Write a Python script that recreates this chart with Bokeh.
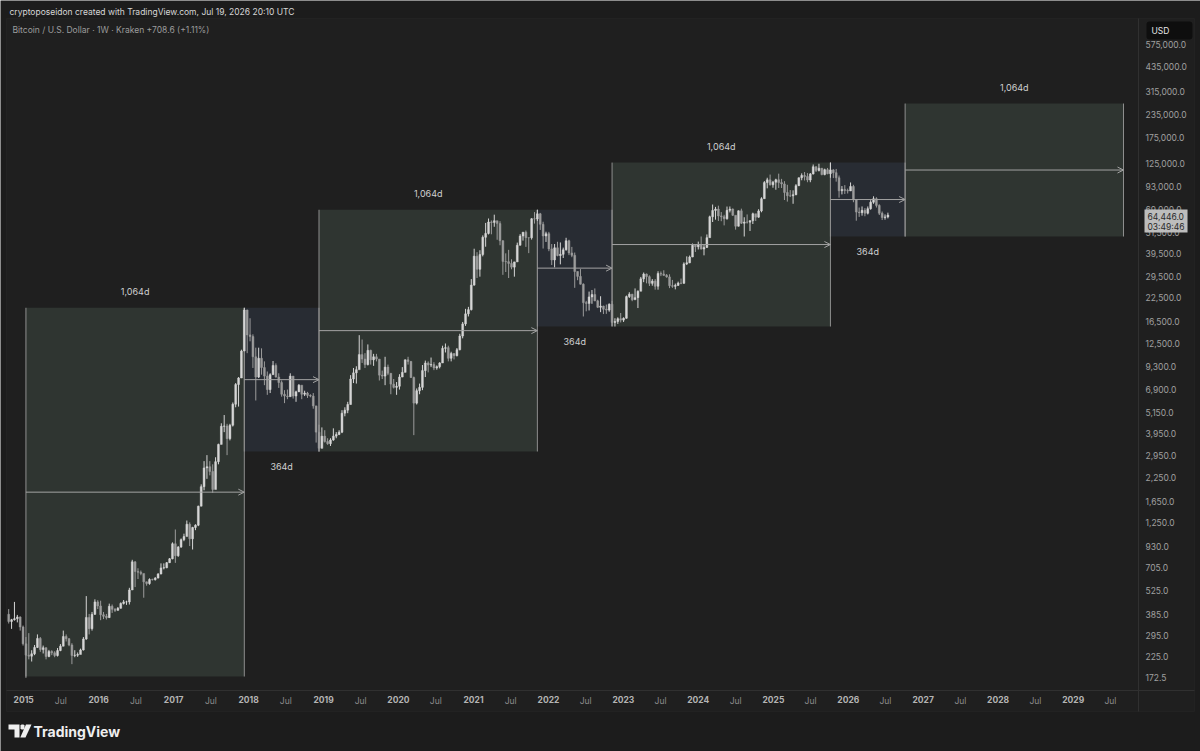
import pandas as pd
from bokeh.plotting import figure
from bokeh.models import (Range1d, LinearAxis, FixedTicker, NumeralTickFormatter, Label,
                          Arrow, OpenHead, PolyAnnotation, BoxAnnotation, ColumnDataSource)
from bokeh.core.properties import value
from bokeh.embed import file_html
from bokeh.resources import INLINE

# ---------------- data (BTC/USD, two-week candles) ----------------
candle_start = "2014-10-13"
first_open = 388.0
closes = [
    354, 362, 367, 375, 330, 266,
    230, 227, 234, 254, 285, 247, 253, 226, 241, 237, 229, 244, 258, 292, 284, 262, 229, 230, 232, 246, 283, 373, 323, 388, 455, 432,
    386, 378, 372, 430, 414, 408, 419, 446, 455, 455, 530, 760, 672, 665, 655, 588, 575, 607, 605, 617, 650, 703, 705, 752, 790, 958,
    822, 918, 1010, 1050, 1230, 1020, 1180, 1215, 1550, 1990, 2530, 2570, 2420, 1920, 2740, 3420, 4310, 4330, 3680, 4370, 5720, 7360, 8000, 11300, 19100, 13900,
    13600, 10500, 8100, 10300, 9150, 8200, 6900, 8350, 9400, 8100, 7550, 6500, 6350, 6300, 8200, 6350, 6700, 7300, 6500, 6600, 6400, 6350, 5600, 4000, 3250, 3800, 3550,
    3450, 3620, 3800, 3880, 4000, 5100, 5300, 5700, 7900, 8550, 8900, 10800, 10200, 9500, 11400, 10100, 10500, 10200, 8300, 8200, 9200, 8500, 7400, 7100, 7200, 8100,
    8600, 10100, 9900, 8050, 5800, 6800, 7100, 8800, 9700, 9450, 9500, 9100, 9250, 9700, 11700, 11800, 10300, 10950, 10650, 11500, 13700, 16000, 18200, 19200, 26300, 38100,
    32200, 38900, 48500, 51000, 59000, 58700, 60000, 57800, 46400, 35600, 35500, 34700, 33100, 35400, 43800, 49300, 51800, 48300, 48200, 61500, 61300, 65500, 57300, 49300, 50800, 41800,
    36300, 42400, 38400, 39000, 41300, 46400, 39700, 38500, 31300, 29400, 26600, 21000, 20800, 22600, 23300, 21500, 19800, 20100, 19300, 19100, 20600, 16300, 16500, 17100, 16800, 17200,
    22700, 23400, 21800, 22400, 24300, 28500, 30300, 29300, 26900, 27700, 25900, 30500, 30300, 29800, 29200, 26100, 25900, 26200, 27000, 26900, 34500, 35000, 37700, 43800, 43000, 44000,
    41700, 42600, 48300, 63100, 68400, 69600, 63800, 63100, 61500, 68500, 69600, 64300, 55900, 68100, 58100, 59000, 58900, 60000, 65600, 62800, 68000, 79500, 97700, 101200, 95000, 98300,
    101300, 97700, 96100, 86100, 82600, 82500, 83700, 94000, 104000, 107000, 105700, 101000, 109200, 119800, 114200, 117500, 108300, 115300, 109600, 115000, 111000, 104000, 88000, 89500, 88300, 87800,
    93000, 78500, 67000, 66500, 68500, 66000, 70000, 76000, 79500, 73000, 66000, 62500, 63000, 64446,
]
highs = [
    415, 366, 455, 385, 378, 336,
    290, 305, 245, 262, 300, 290, 260, 254, 246, 245, 242, 252, 265, 315, 300, 286, 268, 245, 238, 250, 290, 490, 390, 400, 470, 465,
    462, 400, 390, 445, 440, 420, 426, 452, 466, 462, 545, 780, 765, 700, 680, 630, 590, 615, 612, 625, 658, 745, 745, 758, 798, 975,
    1150, 930, 1025, 1090, 1290, 1260, 1190, 1230, 1560, 2050, 2760, 2980, 2760, 2650, 2900, 3450, 4480, 4980, 4450, 4450, 5850, 7500, 8100, 11500, 19660, 19200,
    17200, 14000, 11800, 11800, 11700, 9900, 8700, 8500, 9950, 9650, 8500, 7750, 6850, 6900, 8500, 8200, 6800, 7400, 7200, 6800, 6700, 6500, 6600, 5600, 4400, 4250, 4100,
    3700, 3700, 4200, 4000, 4100, 5300, 5500, 5900, 8300, 9100, 9300, 13850, 13100, 11000, 12300, 11500, 10900, 10900, 10100, 8800, 10500, 9500, 8500, 7900, 7600, 8400,
    9200, 10150, 10500, 9950, 8150, 7000, 7450, 9450, 10000, 9900, 10400, 9800, 9400, 9800, 12100, 12450, 12100, 11200, 10950, 11750, 14100, 16400, 19400, 19900, 28400, 41900,
    40100, 41100, 49700, 58300, 61700, 60200, 64800, 58000, 59600, 46700, 39500, 41300, 36600, 35400, 45300, 50500, 51800, 52900, 48300, 62000, 67000, 69000, 66300, 59200, 52100, 52000,
    44500, 44500, 45800, 45400, 42500, 48200, 47000, 42900, 39900, 31300, 32300, 26900, 21500, 24200, 24700, 25200, 21800, 22800, 20200, 20500, 20800, 21500, 17200, 17400, 18400, 17400,
    23000, 24000, 23500, 25200, 24600, 29200, 30900, 30500, 29800, 28400, 28400, 31400, 31300, 31800, 30300, 30200, 28100, 26800, 27500, 28600, 35200, 38000, 38400, 44800, 44000, 45900,
    49000, 43900, 50300, 64000, 73800, 71600, 72700, 67000, 64700, 71900, 72000, 70200, 63800, 68400, 70000, 62700, 65000, 60400, 66500, 64500, 69500, 81000, 99600, 104000, 108300, 99900,
    102700, 109600, 102500, 99500, 95000, 88800, 88500, 95800, 104300, 110000, 111900, 110400, 110500, 123200, 120200, 124400, 117600, 116800, 117900, 126200, 116000, 116400, 107000, 93500, 94600, 90500,
    97900, 95000, 79000, 71000, 72000, 70500, 72000, 78000, 82000, 81000, 74000, 67500, 65000, 66500,
]
lows = [
    345, 322, 358, 350, 315, 260,
    172, 218, 212, 230, 252, 240, 235, 218, 224, 230, 224, 226, 242, 258, 274, 258, 205, 224, 225, 234, 244, 280, 300, 315, 385, 415,
    360, 365, 363, 370, 395, 400, 410, 418, 440, 438, 440, 570, 550, 610, 640, 480, 560, 567, 598, 598, 615, 648, 690, 700, 748, 785,
    750, 810, 910, 990, 1150, 930, 890, 1140, 1200, 1550, 1900, 2200, 2300, 1840, 2250, 2650, 3850, 4000, 2980, 3600, 4300, 5500, 5550, 8000, 11300, 11000,
    12800, 9100, 6000, 8000, 8350, 7300, 6450, 6600, 8750, 8050, 7050, 6300, 5800, 6100, 6300, 6150, 5900, 6700, 6100, 6350, 6200, 6250, 5400, 3500, 3122, 3300, 3500,
    3400, 3350, 3580, 3700, 3850, 3950, 4900, 5100, 5700, 7500, 7450, 9000, 9700, 9100, 9400, 9500, 9350, 9900, 7750, 7900, 7300, 8300, 6500, 7000, 6450, 6900,
    8100, 9100, 9500, 8000, 3850, 5700, 6500, 6850, 8100, 8600, 9200, 8850, 8900, 9050, 10600, 11100, 9900, 9900, 10150, 10550, 11400, 13300, 15600, 17600, 19000, 26100,
    28800, 29300, 38000, 43000, 50300, 50400, 55500, 47000, 43800, 30000, 31100, 28800, 32200, 29300, 36500, 43700, 46500, 42900, 39600, 47100, 57800, 59800, 53300, 42000, 45700, 40600,
    34000, 33000, 38000, 34300, 37200, 40900, 38600, 37600, 25400, 28000, 26500, 17600, 18800, 19000, 20700, 21400, 19600, 18600, 18150, 18200, 18700, 15600, 15476, 16000, 16300, 16400,
    17100, 22300, 21400, 22000, 19600, 26600, 27300, 26900, 26000, 26100, 24800, 24800, 29500, 29600, 28900, 25300, 25400, 24900, 26000, 26600, 26800, 34000, 34800, 37600, 40200, 41500,
    41500, 38500, 42300, 50600, 59000, 60800, 59800, 59600, 56500, 60800, 66700, 63800, 53500, 55700, 57500, 49000, 57800, 52600, 57500, 59800, 62300, 66800, 79700, 90800, 94100, 91500,
    89200, 91200, 91200, 78200, 76600, 81200, 74500, 83100, 93400, 100700, 100400, 98200, 98200, 108400, 111900, 112700, 107300, 107300, 108700, 104000, 103500, 98900, 80600, 84000, 84500, 85000,
    89500, 76000, 60000, 63000, 64000, 63500, 65000, 69000, 74500, 71000, 64500, 60500, 60800, 61800,
]

# date-range drawings (start, end, price bounds, label)
box_start = ["2015-01-12", "2017-12-11", "2018-12-10", "2021-11-08", "2022-11-07", "2025-10-06", "2026-10-05"]
box_end = ["2017-12-11", "2018-12-10", "2021-11-08", "2022-11-07", "2025-10-06", "2026-10-05", "2029-09-03"]
box_top = [19666, 19666, 69000, 69000, 126272, 126272, 269000]
box_bottom = [175, 3122, 3122, 15476, 15476, 49000, 49000]
box_text = ["1,064d", "364d", "1,064d", "364d", "1,064d", "364d", "1,064d"]

price_ticks = [172.5, 225, 295, 385, 525, 705, 930, 1250, 1650, 2250, 2950, 3950, 5150, 6900, 9300,
               12500, 16500, 22500, 29500, 39500, 51500, 69000, 93000, 125000, 175000, 235000,
               315000, 435000, 575000]
tick_years = list(range(2015, 2030))

last_price_text = "64,446.0\n03:49:46"
header_text = "cryptoposeidon created with TradingView.com, Jul 19, 2026 20:10 UTC"
legend_text = "Bitcoin / U.S. Dollar \u00b7 1W \u00b7 Kraken  +708.6 (+1.11%)"

# ---------------- helpers ----------------
W, H = 1200, 751
DAY = 86400000.0
FONT = "Inter"
FS = "8.5px"


def ms(d):
    return pd.Timestamp(d).value / 1e6


# view mapping (pixel geometry of the TradingView pane)
X0_MS = ms("2015-01-05")
PX_PER_DAY = 74.96 / 365.25


def t_at(px):
    return X0_MS + (px - 24) / PX_PER_DAY * DAY


def v_at(py):
    return 10 ** (5.6385 - (py - 65.5) / 179.8)


starts = pd.date_range(candle_start, periods=len(closes), freq="14D")
xc = [ms(d) + 7 * DAY for d in starts]
opens = [first_open] + closes[:-1]
up = [c >= o for o, c in zip(opens, closes)]
UPC, DNC = "#d6d6d6", "#9c9c9c"
candles = ColumnDataSource(dict(
    x=xc, o=opens, c=closes, h=highs, l=lows,
    top=[max(o, c) for o, c in zip(opens, closes)],
    bot=[min(o, c) for o, c in zip(opens, closes)],
    col=[UPC if u else DNC for u in up],
))

bx0 = [ms(d) for d in box_start]
bx1 = [ms(d) for d in box_end]
green = [t.startswith("1,") for t in box_text]
boxes = ColumnDataSource(dict(
    x0=bx0, x1=bx1, top=box_top, bottom=box_bottom,
    xm=[(a + b) / 2 for a, b in zip(bx0, bx1)],
    ym=[(t * b) ** 0.5 for t, b in zip(box_top, box_bottom)],
    fill=["#2f3531" if g else "#282c33" for g in green],
    ty=[t if g else b for t, b, g in zip(box_top, box_bottom, green)],
    tyo=[-16 if g else 15 for g in green],
    txt=box_text,
))

PAGE = "#1c1c1c"
PANE = "#1f1f1f"
LINE = "#303030"
p = figure(width=W, height=H, x_axis_type=None, y_axis_type="log", y_axis_location="right",
           x_range=Range1d(t_at(0), t_at(W)), y_range=Range1d(v_at(H), v_at(0)),
           output_backend="svg", toolbar_location=None,
           min_border_left=0, min_border_right=0, min_border_top=0, min_border_bottom=0)
p.background_fill_color = PAGE
p.border_fill_color = PAGE
p.outline_line_color = None
p.grid.visible = False

# chart pane (background + border)
p.add_layout(BoxAnnotation(left=6, right=1194, top=H - 18, bottom=H - 711,
                           left_units="screen", right_units="screen", top_units="screen",
                           bottom_units="screen", fill_color=PANE, fill_alpha=1,
                           line_color=LINE, line_width=1, level="underlay"))

# price axis, pinned at the pane's price-scale divider
ya = p.yaxis[0]
ya.fixed_location = t_at(1138)
ya.bounds = (v_at(711), v_at(18))
ya.ticker = FixedTicker(ticks=price_ticks, minor_ticks=[])
ya.formatter = NumeralTickFormatter(format="0,0.0")
ya.major_tick_line_color = None
ya.minor_tick_line_color = None
ya.major_tick_out = 0
ya.major_tick_in = 0
ya.minor_tick_out = 0
ya.axis_line_color = LINE
ya.major_label_text_font = FONT
ya.major_label_text_font_size = FS
ya.major_label_text_color = "#a0a0a0"
ya.major_label_standoff = 7

# time axes (bold years and plain "Jul" on the same line)
year_ms = [ms(f"{y}-01-01") for y in tick_years]
jul_ms = [ms(f"{y}-07-01") for y in tick_years]
ax_year = LinearAxis(ticker=FixedTicker(ticks=year_ms, minor_ticks=[]),
                     major_label_overrides={t: str(y) for t, y in zip(year_ms, tick_years)})
ax_jul = LinearAxis(ticker=FixedTicker(ticks=jul_ms, minor_ticks=[]),
                    major_label_overrides={t: "Jul" for t in jul_ms})
for ax in (ax_year, ax_jul):
    ax.fixed_location = v_at(690)
    ax.bounds = (t_at(6), t_at(1194))
    ax.major_tick_line_color = None
    ax.minor_tick_line_color = None
    ax.major_tick_out = 0
    ax.major_tick_in = 0
    ax.minor_tick_out = 0
    ax.major_label_text_font = FONT
    ax.major_label_text_font_size = FS
    ax.major_label_standoff = 5
ax_year.axis_line_color = LINE
ax_year.major_label_text_font_style = "bold"
ax_year.major_label_text_color = "#b4b4b4"
ax_jul.axis_line_color = None
ax_jul.major_label_text_color = "#8c8c8c"
p.add_layout(ax_year, "below")
p.add_layout(ax_jul, "below")

# date-range boxes
p.quad(left="x0", right="x1", top="top", bottom="bottom", fill_color="fill", line_color=None, source=boxes)
p.segment(x0="x0", y0="bottom", x1="x0", y1="top", line_color="#8e8e8e", line_width=1, source=boxes)
p.segment(x0="x1", y0="bottom", x1="x1", y1="top", line_color="#8e8e8e", line_width=1, source=boxes)
p.text(x="xm", y="ty", text="txt", y_offset="tyo", text_align="center", text_baseline="middle",
       text_font=value(FONT), text_font_size="9px", text_color="#d0d0d0", source=boxes)

# candles
p.segment(x0="x", y0="l", x1="x", y1="h", line_color="col", line_width=1, source=candles)
p.vbar(x="x", width=9 * DAY, top="top", bottom="bot", fill_color="col", line_color="col",
       line_width=0.5, source=candles)

# arrows through the middle of each range
p.add_layout(Arrow(end=OpenHead(size=6, line_color="#a3a3a3", line_width=1), source=boxes,
                   x_start="x0", y_start="ym", x_end="x1", y_end="ym",
                   line_color="#a3a3a3", line_width=1))


# texts (screen units: from the canvas bottom-left)
def sy(y):
    return H - y


p.add_layout(Label(x=9, y=sy(11), x_units="screen", y_units="screen", text=header_text,
                   text_font=FONT, text_font_size=FS, text_color="#d6d6d6", text_baseline="middle"))
p.add_layout(Label(x=12, y=sy(29), x_units="screen", y_units="screen", text=legend_text,
                   text_font=FONT, text_font_size=FS, text_color="#9c9c9c", text_baseline="middle"))
p.add_layout(Label(x=1146, y=sy(30), x_units="screen", y_units="screen", text="USD",
                   text_font=FONT, text_font_size=FS, text_color="#e6e6e6", text_baseline="middle",
                   background_fill_color="#0e0e0e", padding=dict(left=5, right=23, top=4, bottom=4),
                   border_radius=3))
p.add_layout(Label(x=1144, y=sy(209), x_units="screen", y_units="screen", text=last_price_text,
                   text_font=FONT, text_font_size=FS, text_color="#2a2a2a", text_baseline="top",
                   background_fill_color="#bdbdbd", padding=dict(left=3, right=3, top=2, bottom=1),
                   text_line_height=1.0))
p.add_layout(Label(x=33, y=sy(731), x_units="screen", y_units="screen", text="TradingView",
                   text_font=FONT, text_font_size="14px", text_font_style="bold", text_color="#efefef",
                   text_baseline="middle"))


# TradingView logo mark
def poly(pts):
    return PolyAnnotation(xs=[a for a, b in pts], ys=[sy(b) for a, b in pts],
                          xs_units="screen", ys_units="screen", fill_color="#efefef", fill_alpha=1,
                          line_color=None)


p.add_layout(poly([(8, 724), (19, 724), (19, 737), (14, 737), (14, 729), (8, 729)]))
p.add_layout(poly([(20, 725), (21, 724), (23, 724), (24, 725), (24, 728), (23, 729), (21, 729), (20, 728)]))
p.add_layout(poly([(25.5, 724), (31, 724), (25, 737), (19.8, 737)]))

open("out.html", "w").write(file_html(p, INLINE))
